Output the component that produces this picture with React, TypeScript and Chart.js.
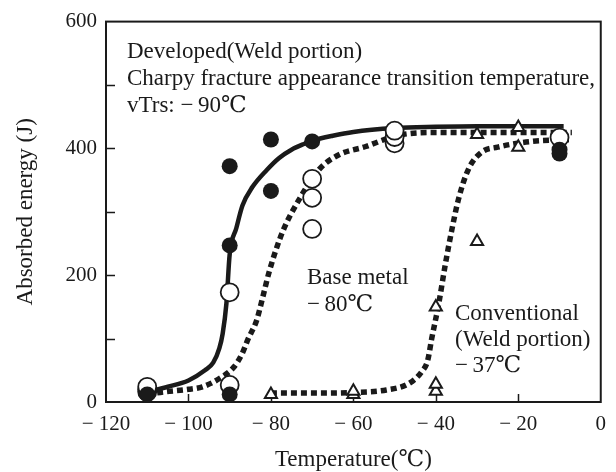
import React, { useEffect, useRef } from "react";
import { Chart, registerables } from "chart.js";

Chart.register(...registerables);

// ---- data ----
const xMin = -120;
const xMax = 0;
const xStep = 20;
const yMin = 0;
const yMax = 600;
const yStep = 100;

// Developed (Weld portion) measured points: filled circles
const developedX = [-110, -90, -90, -90, -80, -80, -70, -10, -10];
const developedY = [12, 12, 247, 372, 333, 414, 411, 392, 398];

// Base metal measured points: open circles
const baseX = [-110, -110, -110, -90, -90, -70, -70, -70, -50, -50, -50, -10];
const baseY = [16, 20, 24, 27, 173, 273, 322, 352, 408, 418, 428, 417];

// Conventional (Weld portion) measured points: open triangles
const convX = [-80, -60, -60, -40, -40, -40, -30, -30, -20, -20];
const convY = [12, 12, 17, 17, 28, 150, 253, 422, 402, 433];

// Fitted transition curves
const developedCurveX = [-110, -105, -100, -96, -94, -92.5, -91.7, -90.8, -90, -88.4, -86.9, -84.5, -81, -78, -75, -72, -70, -65, -60, -50, -40, -30, -20, -9];
const developedCurveY = [16, 24, 34, 50, 62, 85, 108, 155, 233, 274, 310, 339, 366, 385, 398, 407, 412, 420, 426, 432, 434, 435, 435, 435];

const baseCurveX = [-110, -106, -100, -96.6, -92.5, -89, -87, -85.5, -83.5, -81.8, -80.4, -77.2, -73.1, -68.3, -63.5, -57, -52, -48, -40, -20, -7];
const baseCurveY = [12, 16, 20, 24, 37, 55, 76, 100, 128, 170, 206, 268, 320, 367, 390, 403, 415, 422, 425, 425, 425];

const convCurveX = [-80, -70, -60, -52, -46.6, -43.4, -42, -41, -39.3, -37.7, -36.2, -34.5, -32.1, -28.9, -25, -16.8, -7];
const convCurveY = [14, 14, 15, 19, 29, 48, 65, 100, 155, 217, 269, 320, 367, 394, 402, 411, 414];

const xTitle = "Temperature(℃)";
const yTitle = "Absorbed energy (J)";
const noteDeveloped = ["Developed(Weld portion)", "Charpy fracture appearance transition temperature,", "vTrs: \u2212\u200990℃"];
const noteBase = ["Base metal", "\u2212\u200980℃"];
const noteConv = ["Conventional", "(Weld portion)", "\u2212\u200937℃"];

const pts = (xs: number[], ys: number[]) => xs.map((x, i) => ({ x, y: ys[i] }));

const INK = "#1a1a1a";
const SERIF = '"Liberation Serif", "DejaVu Serif", "Times New Roman", serif';

const framePlugin = {
  id: "frame",
  beforeDatasetsDraw(chart: any) {
    const { ctx, chartArea: a, scales } = chart;
    ctx.save();
    ctx.strokeStyle = INK;
    ctx.lineWidth = 2;
    ctx.strokeRect(a.left, a.top, a.right - a.left, a.bottom - a.top);
    ctx.lineWidth = 1.5;
    ctx.beginPath();
    for (const t of scales.y.ticks) {
      if (t.value <= yMin || t.value >= yMax) continue;
      const y = Math.round(scales.y.getPixelForValue(t.value)) + 0.5;
      ctx.moveTo(a.left, y);
      ctx.lineTo(a.left + 9, y);
    }
    for (const t of scales.x.ticks) {
      if (t.value <= xMin || t.value >= xMax) continue;
      const x = Math.round(scales.x.getPixelForValue(t.value)) + 0.5;
      ctx.moveTo(x, a.bottom);
      ctx.lineTo(x, a.bottom - 8);
    }
    ctx.stroke();
    ctx.restore();
  },
  afterDraw(chart: any) {
    const { ctx, chartArea: a } = chart;
    ctx.save();
    ctx.fillStyle = INK;
    ctx.font = `23px ${SERIF}`;
    ctx.textBaseline = "alphabetic";
    ctx.textAlign = "left";
    const lines = (arr: string[], x: number, y0: number, dy: number) =>
      arr.forEach((s, i) => ctx.fillText(s, x, y0 + i * dy));
    lines(noteDeveloped, 127, 58, 27);
    lines(noteBase, 307, 284, 27);
    lines(noteConv, 455, 320, 26);
    // axis titles
    ctx.font = `23px ${SERIF}`;
    ctx.textAlign = "center";
    ctx.fillText(xTitle, (a.left + a.right) / 2, 466);
    ctx.translate(32, (a.top + a.bottom) / 2);
    ctx.rotate(-Math.PI / 2);
    ctx.fillText(yTitle, 0, 0);
    ctx.restore();
  },
};

export default function App() {
  const ref = useRef<HTMLCanvasElement | null>(null);

  useEffect(() => {
    document.body.style.margin = "0";
    if (!ref.current) return;
    const tickFont = { family: SERIF, size: 21 };
    const chart = new Chart(ref.current, {
      type: "scatter",
      data: {
        datasets: [
          {
            label: "Developed",
            data: pts(developedX, developedY),
            pointStyle: "circle",
            pointRadius: 8,
            backgroundColor: INK,
            borderColor: INK,
            borderWidth: 0,
            showLine: false,
            clip: false,
          },
          {
            label: "Base metal",
            data: pts(baseX, baseY),
            pointStyle: "circle",
            pointRadius: 9,
            backgroundColor: "#ffffff",
            borderColor: INK,
            borderWidth: 1.8,
            showLine: false,
            clip: false,
          },
          {
            label: "Conventional",
            data: pts(convX, convY),
            pointStyle: "triangle",
            pointRadius: 7,
            backgroundColor: "#ffffff",
            borderColor: INK,
            borderWidth: 2,
            showLine: false,
            clip: false,
          },
          {
            label: "Developed curve",
            data: pts(developedCurveX, developedCurveY),
            showLine: true,
            pointRadius: 0,
            borderColor: INK,
            borderWidth: 4.5,
            cubicInterpolationMode: "monotone",
            fill: false,
          },
          {
            label: "Base metal curve",
            data: pts(baseCurveX, baseCurveY),
            showLine: true,
            pointRadius: 0,
            borderColor: INK,
            borderWidth: 5.5,
            borderDash: [6, 4],
            borderCapStyle: "butt",
            cubicInterpolationMode: "monotone",
            fill: false,
          },
          {
            label: "Conventional curve",
            data: pts(convCurveX, convCurveY),
            showLine: true,
            pointRadius: 0,
            borderColor: INK,
            borderWidth: 5.5,
            borderDash: [6, 4],
            borderCapStyle: "butt",
            cubicInterpolationMode: "monotone",
            fill: false,
          },
        ],
      },
      options: {
        responsive: false,
        animation: false,
        devicePixelRatio: 1,
        layout: { padding: { top: 18, right: 13, left: 0, bottom: 0 } },
        plugins: { legend: { display: false }, tooltip: { enabled: false } },
        scales: {
          x: {
            type: "linear",
            min: xMin,
            max: xMax,
            grid: { display: false, drawTicks: false },
            border: { display: false },
            ticks: {
              stepSize: xStep,
              padding: 10,
              color: INK,
              font: tickFont,
              maxRotation: 0,
              callback: (v: any) => (v < 0 ? `\u2212 ${-v}` : `${v}`),
            },
            afterFit: (s: any) => {
              s.height = 70;
            },
          },
          y: {
            type: "linear",
            min: yMin,
            max: yMax,
            grid: { display: false, drawTicks: false },
            border: { display: false },
            ticks: {
              stepSize: yStep,
              padding: 9,
              color: INK,
              font: tickFont,
              callback: (v: any) => (v % 200 === 0 ? `${v}` : ""),
            },
            afterFit: (s: any) => {
              s.width = 106;
            },
          },
        },
      },
      plugins: [framePlugin],
    });
    return () => chart.destroy();
  }, []);

  return (
    <div style={{ width: 616, height: 472, background: "#fff" }}>
      <canvas ref={ref} width={616} height={472} style={{ width: 616, height: 472, display: "block" }} />
    </div>
  );
}
